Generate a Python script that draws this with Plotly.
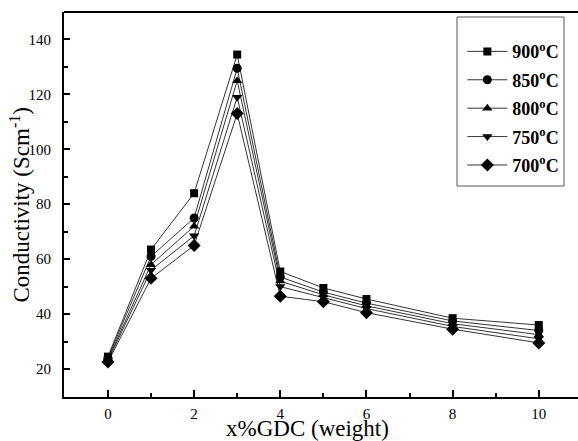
import plotly.graph_objects as go

x_gdc = [0, 1, 2, 3, 4, 5, 6, 8, 10]
temps = ["900", "850", "800", "750", "700"]
cond_900 = [24.5, 63.5, 84.0, 134.5, 55.5, 49.5, 45.5, 38.5, 36.0]
cond_850 = [24.0, 61.0, 75.0, 129.5, 53.5, 48.0, 44.0, 37.5, 34.0]
cond_800 = [23.5, 58.0, 72.0, 125.0, 52.0, 47.0, 43.0, 36.5, 32.5]
cond_750 = [23.0, 56.0, 68.5, 119.0, 50.0, 46.0, 42.0, 35.5, 31.0]
cond_700 = [22.5, 53.0, 65.0, 113.0, 46.5, 44.5, 40.5, 34.5, 29.5]
series = [cond_900, cond_850, cond_800, cond_750, cond_700]
symbols = ["square", "circle", "triangle-up", "triangle-down", "diamond"]
sizes = [8, 9, 9, 9, 10]

fig = go.Figure()
for i, (t, ys, sym, sz) in enumerate(zip(temps, series, symbols, sizes)):
    fig.add_trace(go.Scatter(
        x=x_gdc, y=ys, mode="lines+markers",
        name=f"{t}<sup>o</sup>C",
        legendgroup=f"g{i}",
        line=dict(color="black", width=0.8),
        marker=dict(symbol=sym, size=sz, color="black"),
    ))

font_family = "Liberation Serif"
fig.update_layout(
    width=578, height=441,
    margin=dict(l=64, r=0, t=12, b=44),
    paper_bgcolor="white", plot_bgcolor="white",
    font=dict(family=font_family, color="black", size=15),
    showlegend=True,
    legend=dict(
        x=0.775, y=0.945, xanchor="left", yanchor="top",
        borderwidth=0, bgcolor="rgba(0,0,0,0)",
        font=dict(family=font_family, size=18, color="black", weight="bold"),
        tracegroupgap=2, itemwidth=40,
    ),
    xaxis=dict(
        range=[-1.02, 10.91], tickvals=[0, 2, 4, 6, 8, 10],
        showgrid=False, zeroline=False,
        showline=True, linecolor="black", linewidth=2, mirror=False,
        ticks="inside", ticklen=7, tickwidth=1.5, tickcolor="black",
        minor=dict(tickvals=[1, 3, 5, 7, 9], ticks="inside", ticklen=4, tickwidth=1.5, tickcolor="black"),
        tickfont=dict(family=font_family, size=15),
        ticklabelstandoff=2,
    ),
    yaxis=dict(
        range=[9.8, 150], tickvals=[20, 40, 60, 80, 100, 120, 140],
        showgrid=False, zeroline=False,
        showline=True, linecolor="black", linewidth=2, mirror=False,
        ticks="inside", ticklen=6, tickwidth=1.5, tickcolor="black",
        minor=dict(tickvals=[30, 50, 70, 90, 110, 130, 150], ticks="inside", ticklen=4, tickwidth=1.5, tickcolor="black"),
        tickfont=dict(family=font_family, size=15),
        ticklabelstandoff=8,
    ),
    annotations=[
        dict(text="x%GDC (weight)", xref="paper", yref="paper",
             x=0.473, y=-0.081, xanchor="center", yanchor="middle",
             showarrow=False, font=dict(family=font_family, size=23)),
        dict(text="Conductivity (Scm<sup>-1</sup>)", xref="paper", yref="paper",
             x=-0.0856, y=0.5, xanchor="center", yanchor="middle", textangle=-90,
             showarrow=False, font=dict(family=font_family, size=23)),
    ],
    shapes=[
        dict(type="line", xref="paper", yref="paper", x0=0, x1=1, y0=1, y1=1,
             line=dict(color="black", width=2)),
        dict(type="rect", xref="paper", yref="paper", x0=0.7646, x1=0.9728, y0=0.548, y1=0.987,
             line=dict(color="#555", width=1), fillcolor="white", layer="below"),
    ],
)

fig.write_html("out.html")
